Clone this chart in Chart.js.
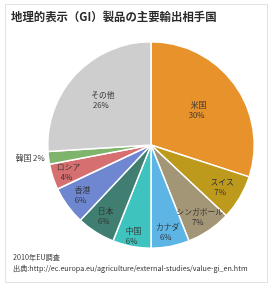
<!DOCTYPE html>
<html><head><meta charset="utf-8">
<script src="https://cdn.jsdelivr.net/npm/chart.js@4"></script>
<style>
html,body{margin:0;padding:0;background:#fff;}
body{width:276px;height:291px;position:relative;overflow:hidden;font-family:"Noto Sans CJK JP","Noto Sans",sans-serif;}
#frame{position:absolute;left:5px;top:4px;width:261px;height:277px;border:1px solid #e2e2e2;}
#title{position:absolute;left:11px;top:8px;font-size:11.4px;font-weight:bold;color:#2b2b2b;letter-spacing:0px;white-space:nowrap;}
#note{position:absolute;left:13px;top:252px;font-size:7.2px;line-height:11px;color:#333;white-space:nowrap;}
#wrap{position:absolute;left:0;top:0;width:276px;height:291px;}
</style></head><body>
<div id="frame"></div>
<div id="wrap"><canvas id="c" width="276" height="291"></canvas></div>
<div id="title">地理的表示（GI）製品の主要輸出相手国</div>
<div id="note">2010年EU調査<br>出典:http://ec.europa.eu/agriculture/external-studies/value-gi_en.htm</div>
<script>
const categories = ["米国","スイス","シンガポール","カナダ","中国","日本","香港","ロシア","韓国","その他"];
const shares = [30,7,7,6,6,6,6,4,2,26];
const colors = ["#E8922B","#BE9A1C","#A39677","#5DB5E6","#3EC3BE","#407E72","#6F87D0","#D66F6F","#7EB46B","#CECECE"];
const labelRadius = [0.57,0.8,0.84,0.86,0.9,0.82,0.82,0.84,null,0.64];

const labelPlugin = {
  id:'sliceLabels',
  afterDatasetsDraw(chart){
    const ctx = chart.ctx;
    const meta = chart.getDatasetMeta(0);
    ctx.save();
    ctx.fillStyle = '#333';
    ctx.font = '7.8px "Noto Sans CJK JP", sans-serif';
    ctx.textBaseline = 'middle';
    meta.data.forEach((arc,i)=>{
      const p = arc.getProps(['x','y','startAngle','endAngle','outerRadius'],true);
      const mid = (p.startAngle+p.endAngle)/2;
      const txt = shares[i] + '%';
      if (labelRadius[i] === null) {
        const r = p.outerRadius + 4;
        const x = p.x + Math.cos(mid)*r;
        const y = p.y + Math.sin(mid)*r;
        ctx.textAlign = 'right';
        ctx.fillText(categories[i] + ' ' + txt, x, y);
      } else {
        const r = p.outerRadius*labelRadius[i];
        const x = p.x + Math.cos(mid)*r;
        const y = p.y + Math.sin(mid)*r;
        ctx.textAlign = 'center';
        ctx.fillText(categories[i], x, y-5);
        ctx.fillText(txt, x-2, y+5);
      }
    });
    ctx.restore();
  }
};

new Chart(document.getElementById('c'),{
  type:'pie',
  data:{labels:categories,datasets:[{data:shares,backgroundColor:colors,borderColor:'#fff',borderWidth:1.5}]},
  options:{
    responsive:false,animation:false,
    layout:{padding:{left:47,right:21,top:41,bottom:42}},
    plugins:{legend:{display:false},tooltip:{enabled:false},title:{display:false}}
  },
  plugins:[labelPlugin]
});
</script>
</body></html>
